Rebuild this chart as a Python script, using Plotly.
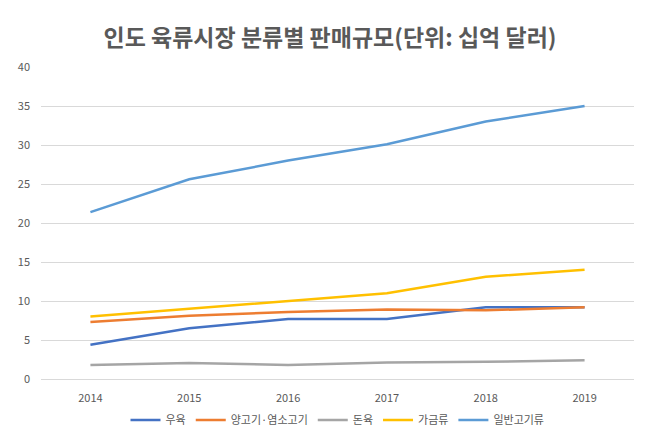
import plotly.graph_objects as go

years = ["2014", "2015", "2016", "2017", "2018", "2019"]
beef = [4.4, 6.5, 7.7, 7.7, 9.2, 9.2]
mutton_goat = [7.3, 8.1, 8.6, 8.9, 8.8, 9.2]
pork = [1.8, 2.05, 1.8, 2.1, 2.2, 2.4]
poultry = [8.0, 9.0, 10.0, 11.0, 13.1, 14.0]
general_meat = [21.4, 25.6, 28.0, 30.1, 33.0, 35.0]

names = ["우육", "양고기·염소고기", "돈육", "가금류", "일반고기류"]
series = [beef, mutton_goat, pork, poultry, general_meat]
colors = ["#4472C4", "#ED7D31", "#A5A5A5", "#FFC000", "#5B9BD5"]

FONT = "Noto Sans CJK KR"

fig = go.Figure()
for n, s, c in zip(names, series, colors):
    fig.add_trace(go.Scatter(x=years, y=s, name=n, mode="lines",
                             line=dict(color=c, width=2.5)))

fig.update_layout(
    width=660, height=447,
    margin=dict(l=41, r=26, t=67, b=69 - 3),
    paper_bgcolor="white", plot_bgcolor="white",
    font=dict(family=FONT, size=11, color="#595959"),
    title=dict(text="<b>인도 육류시장 분류별 판매규모(단위: 십억 달러)</b>",
               x=0.5, xanchor="center", y=0.915, yanchor="middle",
               font=dict(family=FONT, size=23, color="#595959")),
    showlegend=True,
    legend=dict(orientation="h", x=0.5, xanchor="center", y=-0.085, yanchor="top",
                font=dict(family=FONT, size=11, color="#595959"),
                itemwidth=30, tracegroupgap=0),
    xaxis=dict(type="category", range=[-0.5, 5.5], showgrid=False,
               showline=True, linecolor="#D9D9D9", linewidth=1, ticks="",
               tickfont=dict(size=11, color="#595959"), ticklabelstandoff=9),
    yaxis=dict(range=[0, 40], dtick=5, showgrid=True, gridcolor="#D9D9D9",
               gridwidth=1, zeroline=False, showline=False, ticks="",
               tickfont=dict(size=11, color="#595959"), ticklabelstandoff=10),
)

fig.write_html("out.html")
